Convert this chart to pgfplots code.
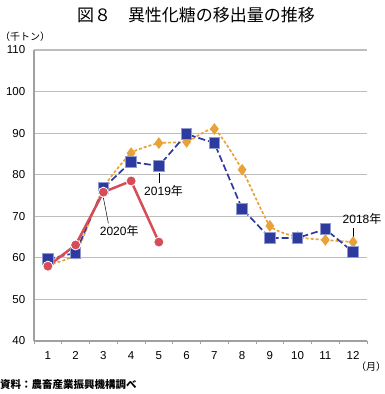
\documentclass[border=0pt]{standalone}
\usepackage{pgfplots}
\pgfplotsset{compat=1.18}
\usepackage{fontspec}
\setmainfont{Liberation Sans}
\newfontfamily\cjk{Noto Sans CJK JP}
\definecolor{c18}{HTML}{E8A23A}
\definecolor{c19}{HTML}{2E3B9E}
\definecolor{c19e}{HTML}{8E9AD0}
\definecolor{c20}{HTML}{D64C57}
\definecolor{gridc}{HTML}{BDBDBD}
\definecolor{axc}{HTML}{A0A0A0}
\begin{document}
\begin{tikzpicture}[x=1pt,y=1pt]
\path[use as bounding box] (-34,-53) rectangle (351,341);
\begin{axis}[
  at={(0,0)}, anchor=south west,
  scale only axis, width=333pt, height=291pt,
  xmin=0.5, xmax=12.5, ymin=40, ymax=110,
  axis x line=bottom, axis y line=left,
  axis line style={axc, line width=1.4pt, -},
  xtick={1,...,12}, major x tick style={draw=none},
  minor xtick={0.5,1.5,...,12.5},
  minor x tick style={axc, line width=0.8pt},
  minor tick length=3pt,
  tick align=outside,
  ytick={40,50,...,110}, major y tick style={draw=none},
  ymajorgrids, grid style={gridc, line width=1.2pt},
  tick label style={font=\fontsize{11.5}{13}\selectfont},
  /pgf/number format/assume math mode=true,
  xticklabel style={yshift=-3pt},
  yticklabel style={xshift=-1pt},
  clip=false,
]
\addplot[c18, line width=1.7pt, dash pattern=on 3pt off 2pt, smooth, tension=0.3,
  mark=diamond*, mark size=4.5pt, mark options={solid, fill=c18, draw=c18}]
  coordinates {(1,58.4)(2,61)(3,76.8)(4,85.2)(5,87.6)(6,87.9)(7,91.0)(8,81.2)(9,67.7)(10,65.0)(11,64.3)(12,63.8)};
\addplot[c19, line width=1.7pt, dash pattern=on 7pt off 3pt,
  mark=square*, mark size=5.2pt, mark options={solid, fill=c19, draw=c19e, line width=1pt}]
  coordinates {(1,59.7)(2,61.2)(3,76.8)(4,83.1)(5,82.1)(6,89.8)(7,87.6)(8,71.8)(9,64.8)(10,64.8)(11,66.9)(12,61.4)};
\addplot[c20, line width=2.5pt,
  mark=*, mark size=5pt, mark options={fill=c20, draw=white, line width=0.8pt}]
  coordinates {(1,58.0)(2,63.1)(3,75.8)(4,78.5)(5,63.8)};
\draw[black, line width=0.6pt] (axis cs:5,80.3) -- (axis cs:5,77.9);
\node[font=\fontsize{12}{13}\selectfont] at (axis cs:5.17,76.2) {2019\cjk 年};
\draw[black, line width=0.5pt] (axis cs:3,74.5) -- (axis cs:3.18,68.3);
\node[font=\fontsize{12}{13}\selectfont] at (axis cs:3.57,66.5) {2020\cjk 年};
\draw[black, line width=1.2pt] (axis cs:12,67.3) -- (axis cs:12,65.0);
\node[font=\fontsize{12}{13}\selectfont] at (axis cs:12.32,69.3) {2018\cjk 年};
\end{axis}
\node[font=\cjk\fontsize{17}{19}\selectfont] at (162,326) {図８　異性化糖の移出量の推移};
\node[font=\cjk\fontsize{10}{11}\selectfont, anchor=west, inner sep=0pt] at (-34,304) {（千トン）};
\node[font=\cjk\fontsize{10}{11}\selectfont, anchor=west, inner sep=0pt] at (322,-26) {（月）};
\node[font=\cjk\bfseries\fontsize{10.5}{12}\selectfont, anchor=west, inner sep=0pt] at (-34,-44) {資料：農畜産業振興機構調べ};
\end{tikzpicture}
\end{document}
